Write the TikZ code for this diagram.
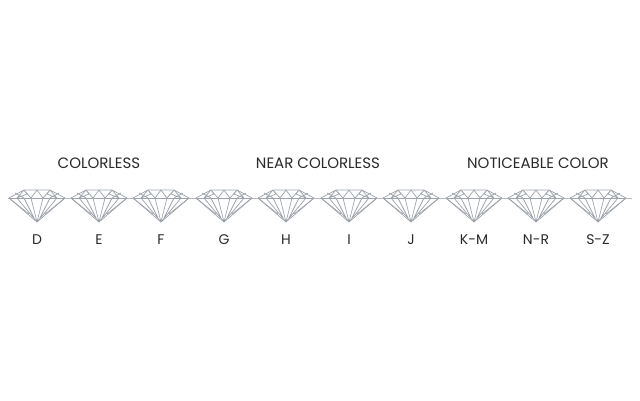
\documentclass[tikz,border=0pt]{standalone}
\usepackage{fontspec}
\setmainfont{Poppins}
\definecolor{dcol}{HTML}{9DA3AB}
\definecolor{tcol}{HTML}{2A2A2A}
\begin{document}
\begin{tikzpicture}[x=1pt,y=-1pt,
  dline/.style={draw=dcol,line width=0.7pt,line join=round},
  hd/.style={font=\fontsize{15}{17}\selectfont,text=tcol},
  lb/.style={font=\fontsize{14}{16}\selectfont,text=tcol}]
\useasboundingbox (0,0) rectangle (640,400);
\draw[dcol!70,line width=0.6pt] (8,198) coordinate (l0) -- (632,198) coordinate (l1);
\node[hd] (h1) at (99,163) {COLORLESS};
\node[hd] (h2) at (318,163) {NEAR COLORLESS};
\node[hd] (h3) at (538,163) {NOTICEABLE COLOR};
\foreach \i/\c/\t in {0/37/D,1/99/E,2/161/F,3/224/G,4/286/H,5/349/I,6/411/J,7/474/K-M,8/536/N-R,9/598/S-Z}{
  \begin{scope}[shift={(\c,0)}]
    \fill[white] (-13,190) -- (13,190) -- (28,198) -- (0,222) -- (-28,198) -- cycle;
    \draw[dline] (-13,190) -- (13,190) -- (28,198) -- (0,222) -- (-28,198) -- cycle;
    \draw[dline] (-28,198) -- (28,198);
    \draw[dline] (-13,190) -- (-20,198) (13,190) -- (20,198)
      (-13,190) -- (-6,198) -- (0,190) -- (6,198) -- (13,190)
      (-13,190) -- (-10,194) -- (-20,198) (13,190) -- (10,194) -- (20,198)
      (-22,193) -- (-13,198) (22,193) -- (13,198);
    \draw[dline] (-20,198) -- (0,222) -- (20,198)
      (-6,198) -- (0,222) -- (6,198)
      (-28,198) -- (-8,214) (28,198) -- (8,214)
      (-13,198) -- (-3,218) (13,198) -- (3,218);
  \end{scope}
  \node[lb] (t\i) at (\c,240) {\t};
}
\end{tikzpicture}
\end{document}
